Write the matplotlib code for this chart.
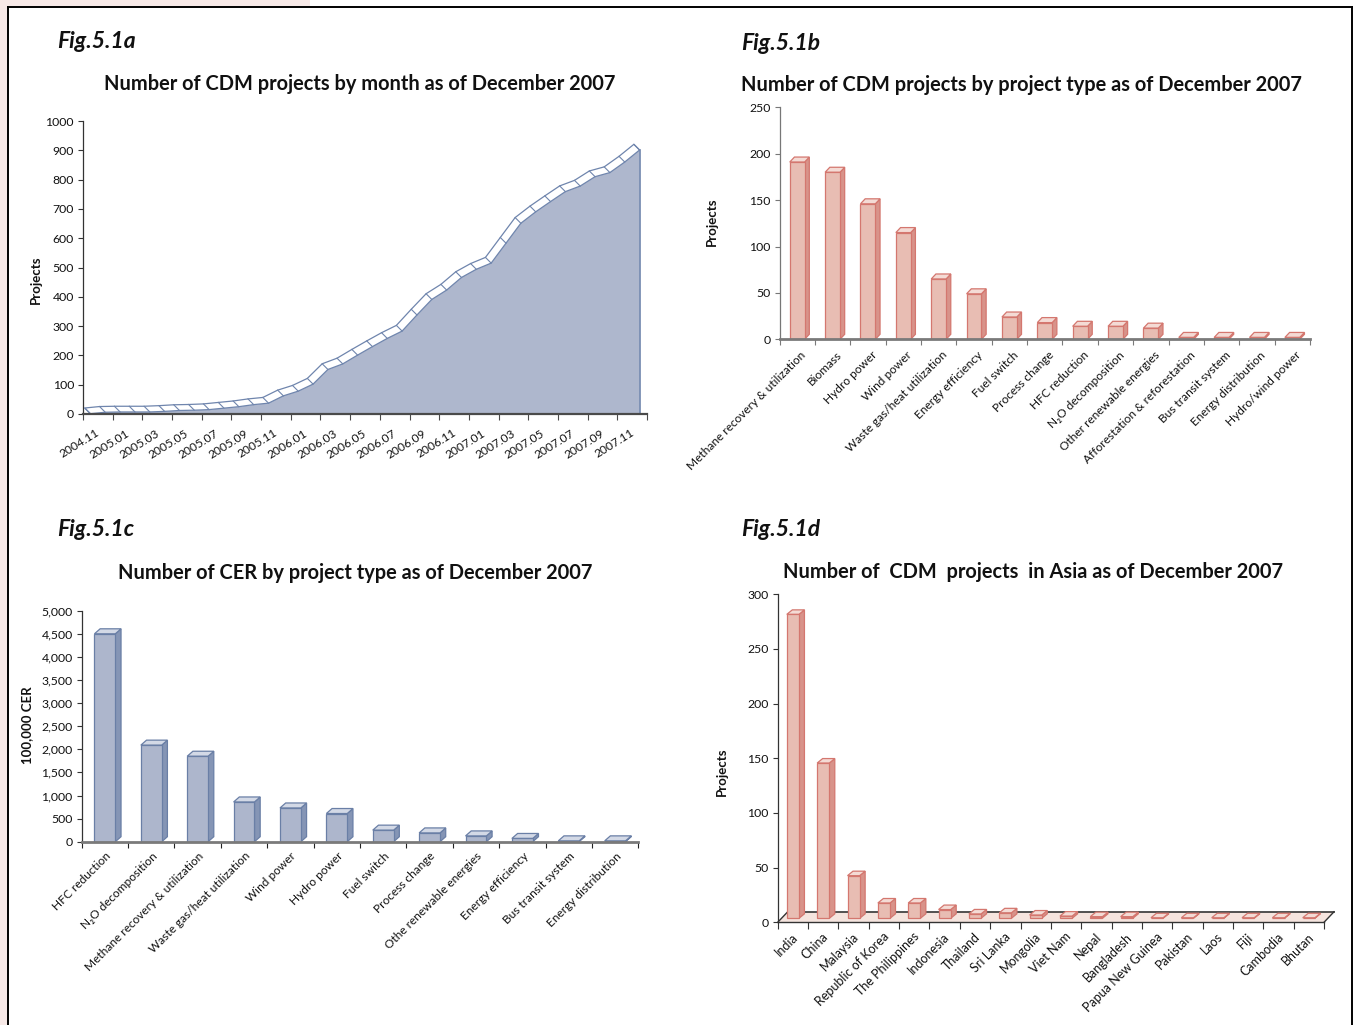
import matplotlib
matplotlib.use("Agg")
import matplotlib.pyplot as plt
from matplotlib.patches import Polygon, Rectangle
from matplotlib.lines import Line2D
from matplotlib.transforms import ScaledTranslation
from matplotlib.ticker import StrMethodFormatter

plt.rcParams["font.family"] = ["Lato", "DejaVu Sans"]

# Fig.5.1a - cumulative projects per month, 2004.11 .. 2007.12
month_labels = ["2004.11", "2005.01", "2005.03", "2005.05", "2005.07", "2005.09",
                "2005.11", "2006.01", "2006.03", "2006.05", "2006.07", "2006.09",
                "2006.11", "2007.01", "2007.03", "2007.05", "2007.07", "2007.09",
                "2007.11"]
monthly_projects = [1, 6, 7, 7, 7, 9, 12, 13, 15, 20, 25, 32, 37, 62, 78, 102,
                    152, 171, 201, 230, 258, 283, 338, 391, 423, 466, 494, 515,
                    583, 651, 690, 725, 759, 778, 810, 824, 860, 901]

# Fig.5.1b - projects by type
type_names = ["Methane recovery & utilization", "Biomass", "Hydro power",
              "Wind power", "Waste gas/heat utilization", "Energy efficiency",
              "Fuel switch", "Process change", "HFC reduction", "N\u2082O decomposition",
              "Other renewable energies", "Afforestation & reforestation",
              "Bus transit system", "Energy distribution", "Hydro/wind power"]
type_projects = [191, 180, 146, 115, 65, 49, 24, 18, 14, 14, 12, 2, 2, 2, 2]

# Fig.5.1c - CER by type
cer_names = ["HFC reduction", "N\u2082O decomposition", "Methane recovery & utilization",
             "Waste gas/heat utilization", "Wind power", "Hydro power",
             "Fuel switch", "Process change", "Othe renewable energies",
             "Energy efficiency", "Bus transit system", "Energy distribution"]
cer_values = [4500, 2090, 1850, 860, 730, 610, 250, 190, 125, 70, 18, 18]

# Fig.5.1d - projects in Asia
countries = ["India", "China", "Malaysia", "Republic of Korea", "The Philippines",
             "Indonesia", "Thailand", "Sri Lanka", "Mongolia", "Viet Nam", "Nepal",
             "Bangladesh", "Papua New Guinea", "Pakistan", "Laos", "Fiji",
             "Cambodia", "Bhutan"]
country_projects = [278, 142, 39, 14, 14, 8, 4, 5, 3, 2, 1.5, 1.5, 0.5, 0.5, 0.5,
                    0.5, 0.5, 0.5]

W, H = 1354, 1025
fig = plt.figure(figsize=(W / 100, H / 100), dpi=100, facecolor="white")

# page decoration
pink = "#f7e9e7"
fig.add_artist(Rectangle((0, 1 - 7 / H), 310 / W, 7 / H, transform=fig.transFigure,
                         facecolor=pink, edgecolor="none"))
fig.add_artist(Rectangle((0, 0), 7.5 / W, 1, transform=fig.transFigure,
                         facecolor=pink, edgecolor="none"))
for xs, ys in [([8, 8], [7, H]), ([8, 1352], [7, 7]), ([1352, 1352], [7, H])]:
    fig.add_artist(Line2D([x / W for x in xs], [1 - y / H for y in ys],
                          transform=fig.transFigure, color="black", lw=1.4))


def add_ax(x0, y0, x1, y1):
    return fig.add_axes([x0 / W, 1 - y1 / H, (x1 - x0) / W, (y1 - y0) / H])


def ftext(x, y, s, **kw):
    fig.text(x / W, 1 - y / H, s, **kw)


def depth(ax, dx_px, dy_px):
    inv = ax.transData.inverted()
    x0, y0 = ax.transData.transform((0, 0))
    return inv.transform((x0 + dx_px, y0 + dy_px))


def style(ax, spine_col, bottom_col, bottom_lw):
    for s in ["top", "right"]:
        ax.spines[s].set_visible(False)
    ax.spines["left"].set_color(spine_col)
    ax.spines["left"].set_linewidth(0.9)
    ax.spines["bottom"].set_color(bottom_col)
    ax.spines["bottom"].set_linewidth(bottom_lw)
    ax.spines["bottom"].set_zorder(5)
    ax.set_facecolor("none")
    ax.tick_params(axis="y", length=3.5, width=0.8, color=spine_col, labelsize=8.8,
                   pad=3, labelcolor="#111111")
    ax.tick_params(axis="x", which="major", length=0, labelcolor="#111111")
    ax.tick_params(axis="x", which="minor", length=4, width=0.8, color=bottom_col)


def cat_labels(ax, pos, labels, rot, dx, pad, size):
    ax.set_xticks(pos, labels, rotation=rot, ha="right", va="center",
                  rotation_mode="anchor", fontsize=size)
    ax.tick_params(axis="x", which="major", pad=pad)
    off = ScaledTranslation(dx / 100, 0, fig.dpi_scale_trans)
    for t in ax.get_xticklabels():
        t.set_transform(t.get_transform() + off)


def bars3d(ax, values, width, dpx, front, side, top, edge, bottom=0.0):
    n = len(values)
    bars = ax.bar(range(n), values, width, bottom=bottom, color=front,
                  edgecolor=edge, linewidth=0.9, zorder=3)
    ddx, ddy = depth(ax, *dpx)
    for r in bars:
        x0, b, w, h = r.get_x(), r.get_y(), r.get_width(), r.get_height()
        ax.add_patch(Polygon([(x0 + w, b), (x0 + w + ddx, b + ddy),
                              (x0 + w + ddx, b + h + ddy), (x0 + w, b + h)],
                             closed=True, facecolor=side, edgecolor=edge,
                             lw=0.9, zorder=2.9, clip_on=False))
        ax.add_patch(Polygon([(x0, b + h), (x0 + ddx, b + h + ddy),
                              (x0 + w + ddx, b + h + ddy), (x0 + w, b + h)],
                             closed=True, facecolor=top, edgecolor=edge,
                             lw=0.9, zorder=2.9, clip_on=False))


title_kw = dict(fontsize=14.4, fontweight="bold", ha="center", va="center", color="#111111")
fig_kw = dict(fontsize=16.5, fontweight="bold", style="italic", ha="left", va="center",
              color="#111111")
ylab_kw = dict(fontsize=9.5, fontweight="bold", rotation=90, ha="center", va="center",
               color="#111111")

# ---------------- Fig.5.1a ----------------
ftext(57, 41, "Fig.5.1a", **fig_kw)
ftext(360, 84, "Number of CDM projects by month as of December 2007", **title_kw)
ftext(36, 280, "Projects", **ylab_kw)
ax = add_ax(83, 121, 647, 414)
n = len(monthly_projects)
ax.set_xlim(-0.5, n - 0.5)
ax.set_ylim(0, 1000)
ax.set_yticks(range(0, 1001, 100))
style(ax, "#333333", "#4a4a4a", 1.6)
xs = list(range(n))
ax.fill_between(xs, 0, monthly_projects, facecolor="#aeb7cd", edgecolor="none", zorder=2)
bdx, bdy = depth(ax, -5.7, 5.7)
front = list(zip(xs, monthly_projects))
back = [(x + bdx, y + bdy) for x, y in front]
ax.add_patch(Polygon(front + back[::-1], closed=True, facecolor="white",
                     edgecolor="#6f85ad", lw=0.9, zorder=3, clip_on=False))
for (fx, fy), (bx, by) in zip(front, back):
    ax.plot([fx, bx], [fy, by], color="#6f85ad", lw=0.8, zorder=4, clip_on=False)
ax.plot([xs[-1], xs[-1]], [0, monthly_projects[-1]], color="#6f85ad", lw=1.2, zorder=4)
ax.set_xticks([k - 0.5 for k in range(0, n + 1, 2)], minor=True)
cat_labels(ax, list(range(0, n, 2)), month_labels, 32, 8, 13, 8.6)

# ---------------- Fig.5.1b ----------------
ftext(741, 44, "Fig.5.1b", **fig_kw)
ftext(1021, 85, "Number of CDM projects by project type as of December 2007", **title_kw)
ftext(712, 222, "Projects", **ylab_kw)
ax = add_ax(779.5, 107.3, 1310, 339.3)
n = len(type_projects)
ax.set_xlim(-0.5, n - 0.5)
ax.set_ylim(0, 250)
ax.set_yticks(range(0, 251, 50))
style(ax, "#777777", "#7a7a7a", 2.0)
ax.set_xticks([k - 0.5 for k in range(n + 1)], minor=True)
bars3d(ax, type_projects, 0.42, (4.7, 5), "#e8bdb3", "#d8938a", "#f4dbd5", "#d4776f")
cat_labels(ax, list(range(n)), type_names, 45, 7, 10, 8.6)

# ---------------- Fig.5.1c ----------------
ftext(57, 529, "Fig.5.1c", **fig_kw)
ftext(355, 573, "Number of CER by project type as of December 2007", **title_kw)
ftext(27, 725, "100,000 CER", **ylab_kw)
ax = add_ax(81.7, 610.7, 638.3, 841.7)
n = len(cer_values)
ax.set_xlim(-0.5, n - 0.5)
ax.set_ylim(0, 5000)
ax.set_yticks(range(0, 5001, 500))
ax.yaxis.set_major_formatter(StrMethodFormatter("{x:,.0f}"))
style(ax, "#333333", "#7a7a7a", 2.0)
ax.set_xticks([k - 0.5 for k in range(n + 1)], minor=True)
ax.tick_params(axis="x", which="minor", color="#222222")
bars3d(ax, cer_values, 0.45, (5.7, 5), "#adb6cc", "#8595b5", "#d3d9e6", "#6a7fa6")
cat_labels(ax, list(range(n)), cer_names, 45, 4, 9, 8.6)

# ---------------- Fig.5.1d ----------------
ftext(741, 529, "Fig.5.1d", **fig_kw)
ftext(1033, 572, "Number of  CDM  projects  in Asia as of December 2007", **title_kw)
ftext(722, 772, "Projects", **ylab_kw)
ax = add_ax(777.7, 594.3, 1324, 922.3)
n = len(country_projects)
ax.set_xlim(-0.5, n - 0.5)
ax.set_ylim(0, 300)
ax.set_yticks(range(0, 301, 50))
style(ax, "#333333", "#333333", 1.0)
ax.set_xticks([k - 0.5 for k in range(n + 1)], minor=True)
ax.tick_params(axis="x", which="minor", length=5, color="#333333")
fdx, fdy = depth(ax, 10, 10.5)
ax.add_patch(Polygon([(-0.5, 0), (n - 0.5, 0), (n - 0.5 + fdx, fdy), (-0.5 + fdx, fdy)],
                     closed=True, facecolor="#f5e4de", edgecolor="none", zorder=1,
                     clip_on=False))
ax.plot([-0.5 + fdx, n - 0.5 + fdx], [fdy, fdy], color="#444444", lw=1.3, zorder=1.5,
        clip_on=False)
for x0 in (-0.5, n - 0.5):
    ax.plot([x0, x0 + fdx], [0, fdy], color="#333333", lw=1.0, zorder=1.5, clip_on=False)
bars3d(ax, country_projects, 0.4, (5.5, 4.5), "#e8bdb3", "#d8938a", "#f4dbd5", "#d4776f",
       bottom=fdy * 0.38)
cat_labels(ax, list(range(n)), countries, 45, 3, 9, 9)

fig.savefig("out.png", dpi=100, facecolor="white")
